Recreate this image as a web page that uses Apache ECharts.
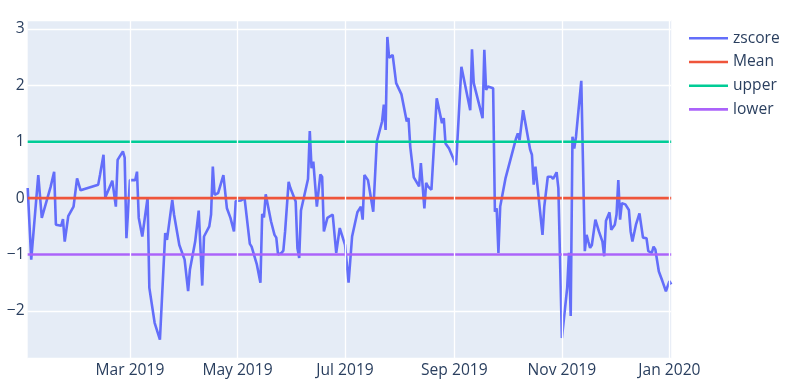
<!DOCTYPE html>
<html><head><meta charset="utf-8">
<script src="https://cdn.jsdelivr.net/npm/echarts@6/dist/echarts.min.js"></script>
<style>html,body{margin:0;padding:0;background:#fff}#c{width:790px;height:392px}</style>
</head><body><div id="c"></div>
<script>
const dates = ['2019-01-02','2019-01-04','2019-01-08','2019-01-10','2019-01-11','2019-01-15','2019-01-17','2019-01-18','2019-01-21','2019-01-22','2019-01-23','2019-01-24','2019-01-25','2019-01-28','2019-01-30','2019-01-31','2019-02-01','2019-02-11','2019-02-12','2019-02-14','2019-02-15','2019-02-19','2019-02-21','2019-02-22','2019-02-25','2019-02-26','2019-02-27','2019-03-01','2019-03-04','2019-03-05','2019-03-06','2019-03-08','2019-03-11','2019-03-12','2019-03-15','2019-03-18','2019-03-21','2019-03-22','2019-03-25','2019-03-26','2019-03-27','2019-03-29','2019-04-01','2019-04-02','2019-04-03','2019-04-04','2019-04-07','2019-04-09','2019-04-11','2019-04-12','2019-04-15','2019-04-16','2019-04-17','2019-04-18','2019-04-20','2019-04-23','2019-04-25','2019-04-27','2019-04-29','2019-04-30','2019-05-03','2019-05-05','2019-05-08','2019-05-09','2019-05-12','2019-05-14','2019-05-15','2019-05-16','2019-05-17','2019-05-20','2019-05-22','2019-05-23','2019-05-24','2019-05-26','2019-05-27','2019-05-28','2019-05-30','2019-05-31','2019-06-03','2019-06-04','2019-06-05','2019-06-06','2019-06-08','2019-06-10','2019-06-11','2019-06-12','2019-06-13','2019-06-14','2019-06-15','2019-06-17','2019-06-18','2019-06-19','2019-06-20','2019-06-21','2019-06-24','2019-06-26','2019-06-28','2019-07-01','2019-07-03','2019-07-05','2019-07-08','2019-07-09','2019-07-10','2019-07-11','2019-07-12','2019-07-14','2019-07-17','2019-07-19','2019-07-22','2019-07-23','2019-07-24','2019-07-25','2019-07-26','2019-07-28','2019-07-29','2019-07-30','2019-07-31','2019-08-02','2019-08-05','2019-08-06','2019-08-07','2019-08-09','2019-08-12','2019-08-13','2019-08-15','2019-08-16','2019-08-17','2019-08-19','2019-08-22','2019-08-25','2019-08-26','2019-08-27','2019-08-29','2019-09-02','2019-09-03','2019-09-05','2019-09-10','2019-09-11','2019-09-12','2019-09-17','2019-09-18','2019-09-19','2019-09-20','2019-09-23','2019-09-24','2019-09-25','2019-09-26','2019-09-27','2019-09-30','2019-10-06','2019-10-07','2019-10-08','2019-10-10','2019-10-11','2019-10-14','2019-10-15','2019-10-16','2019-10-17','2019-10-18','2019-10-21','2019-10-22','2019-10-23','2019-10-24','2019-10-26','2019-10-27','2019-10-29','2019-10-30','2019-11-01','2019-11-04','2019-11-05','2019-11-06','2019-11-07','2019-11-08','2019-11-09','2019-11-12','2019-11-14','2019-11-15','2019-11-16','2019-11-17','2019-11-18','2019-11-20','2019-11-21','2019-11-22','2019-11-24','2019-11-25','2019-11-26','2019-11-28','2019-11-29','2019-12-01','2019-12-02','2019-12-03','2019-12-04','2019-12-05','2019-12-07','2019-12-09','2019-12-10','2019-12-11','2019-12-13','2019-12-15','2019-12-17','2019-12-19','2019-12-20','2019-12-22','2019-12-23','2019-12-24','2019-12-26','2019-12-28','2019-12-30','2019-12-31','2020-01-01','2020-01-02'];
const zscore = [0.18,-1.09,0.41,-0.35,-0.36,0.2,0.47,-0.47,-0.49,-0.37,-0.77,-0.8,-0.32,-0.15,0.35,0.35,0.14,0.24,0.41,0.77,0.01,0.31,-0.15,0.68,0.83,0.72,-0.71,0.32,0.32,0.47,-0.35,-0.68,0.01,-1.59,-2.21,-2.51,-0.62,-0.74,-0.03,-0.29,-0.28,-0.83,-1.09,-1.09,-1.65,-1.27,-0.77,-0.22,-1.55,-0.68,-0.5,-0.29,0.56,0.06,0.09,0.41,-0.18,-0.35,-0.59,-0.05,-0.04,0.0,-0.81,-0.86,-1.18,-1.5,-0.28,-0.34,0.07,-0.41,-0.65,-0.7,-1.0,-0.97,-0.93,-0.59,0.29,0.18,-0.06,-0.89,-1.06,-0.22,0.06,0.34,1.19,0.53,0.65,0.62,-0.15,0.42,0.38,-0.59,-0.56,-0.35,-0.29,-0.97,-0.53,-0.83,-1.5,-0.68,-0.25,-0.28,-0.15,-0.38,0.41,0.32,-0.24,1.0,1.36,1.66,1.21,2.86,2.49,2.54,2.55,2.04,2.01,1.84,1.36,1.42,0.91,0.37,0.21,0.62,-0.18,0.27,0.21,0.15,1.77,1.33,1.42,0.97,0.88,0.59,0.58,2.33,1.56,2.64,2.04,1.42,2.63,1.92,1.98,1.95,-0.24,-0.18,-0.97,-0.15,0.35,1.06,1.15,1.03,1.56,1.58,0.86,0.77,0.24,0.56,0.53,-0.65,-0.15,-0.15,0.38,0.38,0.34,0.46,0.18,-2.48,-1.59,-0.97,-2.09,1.09,0.88,1.09,2.08,-0.94,-0.65,-0.77,-0.88,-0.83,-0.38,-0.37,-0.59,-0.77,-1.03,-0.4,-0.25,-0.56,-0.47,-0.29,0.32,-0.38,-0.09,-0.11,-0.21,-0.59,-0.77,-0.47,-0.27,-0.7,-0.71,-0.94,-0.97,-0.86,-0.91,-1.3,-1.47,-1.65,-1.62,-1.47,-1.53];
const meanValue = 0;
const upperValue = 1;
const lowerValue = -1;
const xTickDates = ['2019-03-01','2019-05-01','2019-07-01','2019-09-01','2019-11-01','2020-01-01'];
const xTickLabels = ['Mar 2019','May 2019','Jul 2019','Sep 2019','Nov 2019','Jan 2020'];
const seriesNames = ['zscore','Mean','upper','lower'];
const seriesColors = ['#636EFA','#EF553B','#00CC96','#AB63FA'];

const FONT = '"Open Sans", sans-serif';
const TXT = '#2a3f5f';
const first = dates[0], last = dates[dates.length - 1];
const flat = v => [[first, v], [last, v]];

const chart = echarts.init(document.getElementById('c'), null, {renderer: 'canvas'});
chart.setOption({
  animation: false,
  backgroundColor: '#fff',
  textStyle: {fontFamily: FONT},
  grid: {left: 27.7, right: 118.8, top: 20, bottom: 33.7, show: true, backgroundColor: '#E5ECF6', borderWidth: 0},
  legend: {
    orient: 'vertical', left: 689, top: 30.3, padding: 0, data: seriesNames,
    icon: 'rect', itemWidth: 39, itemHeight: 2.6, itemGap: 7.7,
    textStyle: {fontSize: 15.6, color: TXT, fontFamily: FONT, lineHeight: 16}
  },
  xAxis: {
    type: 'time', min: first, max: last,
    axisLine: {show: false}, axisTick: {show: false}, axisLabel: {show: false}, splitLine: {show: false}
  },
  yAxis: {
    type: 'value', min: -2.84, max: 3.16, splitNumber: 6,
    axisLine: {show: false}, axisTick: {show: false},
    axisLabel: {showMinLabel: false, showMaxLabel: false, color: TXT, fontSize: 15.6, fontFamily: FONT, margin: 3,
      formatter: v => v < 0 ? '\u2212' + Math.abs(v) : String(v)},
    splitLine: {lineStyle: {color: '#fff', width: 1.3}}
  },
  series: [
    {name: '_grid', type: 'line', data: [], z: 1, silent: true,
     markLine: {silent: true, symbol: 'none', animation: false,
       lineStyle: {color: '#fff', width: 1.3, type: 'solid'},
       label: {position: 'start', distance: 4, color: TXT, fontSize: 15.6, fontFamily: FONT},
       emphasis: {disabled: true},
       data: xTickDates.map((d, i) => ({xAxis: d, label: {formatter: xTickLabels[i]}}))}},
    {name: 'zscore', type: 'line', z: 3, data: dates.map((d, i) => [d, zscore[i]]), showSymbol: false,
     lineStyle: {width: 2.6, color: seriesColors[0]}, itemStyle: {color: seriesColors[0]}, emphasis: {disabled: true}},
    {name: 'Mean', type: 'line', z: 4, data: flat(meanValue), showSymbol: false,
     lineStyle: {width: 2.6, color: seriesColors[1]}, itemStyle: {color: seriesColors[1]}, emphasis: {disabled: true}},
    {name: 'upper', type: 'line', z: 4, data: flat(upperValue), showSymbol: false,
     lineStyle: {width: 2.6, color: seriesColors[2]}, itemStyle: {color: seriesColors[2]}, emphasis: {disabled: true}},
    {name: 'lower', type: 'line', z: 4, data: flat(lowerValue), showSymbol: false,
     lineStyle: {width: 2.6, color: seriesColors[3]}, itemStyle: {color: seriesColors[3]}, emphasis: {disabled: true}}
  ]
});
</script></body></html>
